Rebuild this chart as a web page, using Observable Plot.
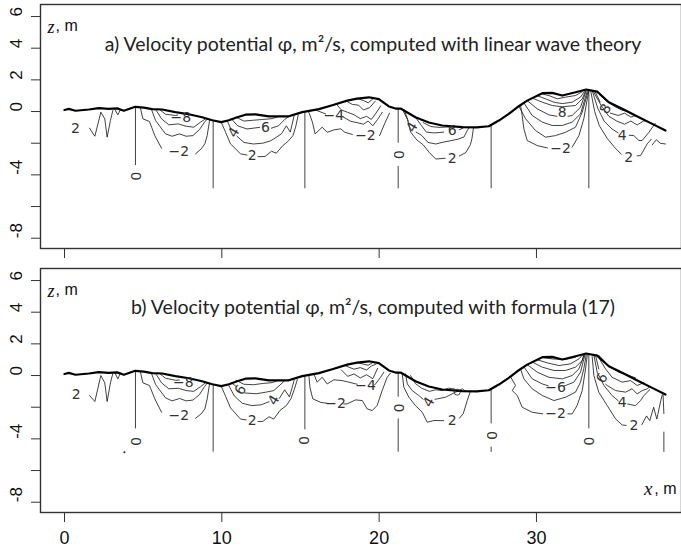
<!DOCTYPE html>
<html>
<head>
<meta charset="utf-8">
<script src="https://cdn.jsdelivr.net/npm/d3@7"></script>
<script src="https://cdn.jsdelivr.net/npm/@observablehq/plot@0.6"></script>
<style>
  body { margin: 0; background: #fff; }
  #chart svg { display: block; overflow: visible; }
</style>
</head>
<body>
<div id="chart"></div>
<script>
// ---------- data ----------
const titleA = "a) Velocity potential \u03c6, m\u00b2/s, computed with linear wave theory";
const titleB = "b) Velocity potential \u03c6, m\u00b2/s, computed with formula (17)";
const xTicks = [0, 10, 20, 30];
const yTicks = [6, 4, 2, 0, -2, -4, -6, -8];
const yTickLabels = [6, 4, 2, 0, -4, -8];

// free surface (same in both panels)
const surfX = [0, 0.27, 0.7, 1.55, 2.18, 2.8, 3.35, 3.77, 4.5, 5.04, 5.57, 6.2, 7.05, 7.9, 8.75, 9.39, 9.96, 10.45, 10.98, 11.5, 12.14, 12.99, 14.26, 15.11, 16.17, 17.02, 17.97, 18.6, 19.35, 19.98, 20.62, 21.04, 21.36, 22.31, 23.16, 24.01, 25.28, 26.2, 26.97, 27.61, 28.24, 28.78, 29.41, 30.37, 31.0, 31.64, 32.49, 33.16, 33.86, 34.6, 35.45, 36.51, 37.36, 38.2];
const surfZ = [0.1, 0.17, 0.05, 0.13, 0.21, 0.17, 0.2, 0.05, 0.3, 0.25, 0.15, 0.13, -0.04, -0.17, -0.36, -0.55, -0.67, -0.55, -0.36, -0.2, -0.18, -0.3, -0.3, -0.04, 0.15, 0.4, 0.69, 0.82, 0.9, 0.78, 0.32, 0.19, 0.19, -0.36, -0.69, -0.88, -0.99, -1.0, -0.93, -0.57, -0.15, 0.27, 0.69, 1.16, 1.18, 1.01, 1.22, 1.39, 1.26, 0.59, 0.17, -0.36, -0.78, -1.2];

// zero contour (vertical) segments: x, top z, bottom z
const zeroA = [[4.51, 0.3, -3.41], [9.45, -0.55, -4.88], [15.28, -0.02, -4.88], [21.21, 0.19, -2.0], [21.21, -3.47, -4.88], [27.12, -0.9, -4.88], [33.33, 1.35, -4.88]];
const zeroB = [[4.51, 0.3, -3.37], [9.45, -0.55, -4.84], [15.28, -0.02, -3.43], [21.21, 0.19, -1.37], [21.21, -2.74, -4.84], [27.12, -0.9, -3.05], [27.12, -4.53, -4.85], [33.33, 1.35, -3.37], [38.1, -3.58, -4.85]];
const zeroLabelsA = [[4.51, -4.08], [21.21, -2.72]];
const zeroLabelsB = [[4.51, -4.17], [15.17, -4.1], [21.21, -2.04], [27.12, -3.79], [33.33, -4.15]];

// contour polylines, panel a
const contoursA = [
  [[1.59,-1.05],[1.93,-1.56],[2.31,-0.04],[2.56,-0.46],[2.71,-1.62],[2.92,-0.57],[3.07,0.06]],
  [[3.2,0.13],[3.39,-0.21],[3.56,0.13]],
  [[4.83,0.21],[4.98,-0.46],[5.4,-0.63],[5.74,-1.52],[6.17,-2.32]],
  [[8.33,-2.67],[8.69,-2.36],[8.92,-2.04],[9.07,-1.52],[9.22,-0.57]],
  [[5.53,0.13],[5.79,-0.57],[6.42,-1.41],[6.84,-1.56],[7.31,-1.41],[7.73,-1.56],[8.16,-1.52],[8.58,-1.14],[8.9,-0.67],[9.09,-0.46]],
  [[5.79,0.13],[6.17,-0.46],[6.63,-0.84],[7.23,-0.78],[7.73,-0.93],[8.22,-0.99],[8.65,-0.67],[8.96,-0.46]],
  [[6.04,0.13],[6.42,-0.17],[7.06,-0.25],[7.2,-0.22]],
  [[9.96,-0.67],[10.24,-1.31],[10.55,-2.04],[11.19,-2.67],[11.6,-2.75]],
  [[12.3,-2.85],[12.74,-2.84],[13.16,-2.51],[13.46,-2.63],[13.88,-2.15],[14.22,-1.87],[14.52,-1.52],[14.69,-0.99],[14.86,-0.2]],
  [[10.35,-0.6],[10.55,-1.05]],
  [[10.95,-1.55],[11.4,-1.95],[12.0,-2.05],[12.6,-2.0],[13.1,-1.85],[13.5,-1.6],[13.8,-1.4],[14.1,-0.9],[14.35,-1.3],[14.6,-0.25]],
  [[10.6,-0.45],[11.0,-0.9],[11.6,-1.1],[12.4,-1.0]],
  [[13.15,-1.05],[13.6,-0.9],[14.0,-0.5],[14.3,-0.27]],
  [[10.9,-0.35],[11.4,-0.6],[12.0,-0.55],[12.6,-0.5],[13.2,-0.45],[13.7,-0.28]],
  [[15.53,-0.04],[15.76,-0.67],[15.93,-1.41],[16.38,-0.99],[16.7,-1.31],[17.12,-1.16],[17.55,-1.09],[17.82,-1.31],[18.3,-1.45]],
  [[20.03,-1.52],[20.36,-0.74],[20.66,-0.1]],
  [[16.0,0.08],[16.6,-0.15]],
  [[17.65,-0.3],[17.9,-0.45],[18.2,-0.62],[18.6,-0.7],[19.0,-0.8],[19.3,-0.6],[19.6,-0.9],[19.9,-0.5],[20.2,-0.05]],
  [[17.3,0.45],[17.6,0.1],[18.0,-0.05],[18.4,-0.2],[18.8,-0.45],[19.2,-0.3],[19.5,-0.5],[19.8,-0.1],[20.1,0.35]],
  [[17.9,0.66],[18.3,0.45],[18.7,0.4],[19.0,0.1],[19.4,0.25],[19.75,0.65]],
  [[18.6,0.82],[19.0,0.7],[19.3,0.55],[19.6,0.8]],
  [[21.5,0.1],[21.8,-0.5],[22.0,-1.3],[22.4,-1.8],[22.8,-2.1],[23.2,-2.6],[23.6,-3.0],[24.2,-2.95]],
  [[25.1,-2.8],[25.5,-2.6],[25.8,-2.1],[25.9,-1.7],[26.0,-1.0]],
  [[21.6,0.1],[21.85,-0.6]],
  [[22.35,-1.3],[22.7,-1.5],[23.1,-1.95],[23.6,-2.05],[24.0,-1.95],[24.5,-1.85],[25.0,-1.75],[25.4,-1.6],[25.6,-1.2],[25.75,-0.98]],
  [[22.3,-0.35],[22.7,-0.9],[23.0,-1.3],[23.5,-1.35],[24.1,-1.3]],
  [[25.1,-1.15],[25.4,-1.0]],
  [[22.8,-0.7],[23.3,-0.95],[23.8,-1.0],[24.3,-0.98],[24.8,-0.99]],
  [[28.99,0.41],[29.09,-0.25],[29.2,-1.09],[29.41,-1.83],[30.05,-2.15],[30.7,-2.3]],
  [[32.27,-2.25],[32.7,-1.52],[33.01,-0.46],[33.23,0.8],[33.33,1.3]],
  [[28.88,0.35],[29.31,-0.46],[29.94,-1.2],[30.58,-1.62],[31.21,-1.52],[31.85,-1.31],[32.48,-0.99],[32.91,-0.04],[33.29,1.3]],
  [[29.2,0.55],[29.73,-0.25],[30.37,-0.67],[31.0,-0.88],[31.64,-0.88],[32.27,-0.67],[32.8,-0.15],[33.23,1.3]],
  [[29.41,0.69],[30.05,0.17],[30.79,-0.21],[31.3,-0.3]],
  [[32.0,-0.3],[32.27,-0.25],[32.8,0.27],[33.16,1.3]],
  [[29.73,0.85],[30.37,0.59],[31.0,0.38],[31.64,0.3],[32.48,0.38],[32.91,0.8],[33.12,1.3]],
  [[30.05,1.0],[30.58,0.8],[31.11,0.59],[31.64,0.5],[32.27,0.59],[32.8,0.91],[33.08,1.32]],
  [[30.3,1.12],[30.79,1.01],[31.32,0.8],[31.85,0.91],[32.48,1.01],[32.91,1.25]],
  [[33.45,1.3],[33.7,0.0],[34.0,-0.9],[34.5,-1.7],[35.0,-2.3],[35.4,-2.7]],
  [[36.4,-2.8],[36.62,-2.78],[37.04,-2.04],[37.3,-1.75]],
  [[37.36,-2.1],[37.62,-1.78],[37.87,-2.0],[38.2,-2.05]],
  [[33.55,1.3],[33.9,0.2],[34.3,-0.6],[34.8,-1.1],[35.2,-1.35]],
  [[35.9,-1.5],[36.19,-1.52],[36.51,-1.83],[36.72,-1.83],[37.15,-1.31],[37.55,-0.75]],
  [[33.6,1.3],[34.1,0.4],[34.6,-0.3],[35.1,-0.6],[35.6,-0.8],[36.0,-0.6],[36.4,-0.85],[36.8,-0.6],[37.0,-0.6]],
  [[33.7,1.3],[34.05,0.6]],
  [[34.7,-0.1],[35.2,-0.25],[35.6,-0.1],[36.0,-0.35],[36.3,-0.25]],
  [[33.8,1.3],[34.4,0.7],[35.0,0.3],[35.4,0.1],[35.8,0.0],[36.0,-0.1]]
];

// contour polylines, panel b
const contoursB = [
  [[1.59,-1.26],[1.93,-1.64],[2.31,0.0],[2.56,-0.46],[2.71,-1.64],[2.92,-0.46],[3.07,0.11]],
  [[3.2,0.17],[3.39,-0.21],[3.56,0.17]],
  [[4.83,0.21],[4.98,-0.46],[5.4,-0.63],[5.74,-1.47],[6.17,-2.32]],
  [[8.33,-2.7],[8.69,-2.42],[8.92,-2.11],[9.07,-1.47],[9.22,-0.53]],
  [[5.53,0.13],[5.79,-0.57],[6.42,-1.41],[6.84,-1.6],[7.31,-1.45],[7.73,-1.6],[8.16,-1.55],[8.58,-1.2],[8.9,-0.7],[9.09,-0.46]],
  [[5.79,0.13],[6.17,-0.46],[6.63,-0.84],[7.23,-0.8],[7.73,-0.95],[8.22,-1.0],[8.65,-0.7],[8.96,-0.46]],
  [[6.04,0.13],[6.42,-0.17],[7.06,-0.3],[7.3,-0.28]],
  [[9.96,-0.67],[10.24,-1.31],[10.55,-2.04],[11.19,-2.75],[11.55,-2.8]],
  [[12.3,-2.9],[12.6,-2.9],[13.0,-2.6],[13.3,-2.75],[13.7,-2.2],[14.1,-1.9],[14.4,-1.45],[14.6,-0.9],[14.8,-0.25]],
  [[10.4,-0.55],[10.8,-1.3],[11.3,-1.75],[11.9,-1.9],[12.5,-1.85],[13.0,-1.65]],
  [[13.65,-1.45],[14.0,-0.9],[14.3,-1.35],[14.6,-0.3]],
  [[10.6,-0.45],[10.95,-0.72]],
  [[11.45,-1.1],[12.2,-1.15],[12.8,-1.05],[13.3,-0.95],[13.7,-0.6],[14.0,-0.32]],
  [[10.9,-0.3],[11.4,-0.55],[12.0,-0.58],[12.6,-0.5],[13.2,-0.45],[13.6,-0.3]],
  [[15.53,0.05],[15.6,-0.74],[15.78,-1.47],[16.3,-1.7],[16.7,-1.75]],
  [[17.75,-1.8],[17.97,-1.79],[18.5,-1.54],[18.93,-1.58],[19.24,-2.11],[19.56,-2.21],[19.87,-1.9],[20.19,-0.95],[20.51,-0.11],[20.72,0.15]],
  [[15.85,0.1],[16.06,-0.42],[16.38,-0.11],[16.7,-0.53],[17.12,-0.27],[17.65,-0.32],[18.08,-0.42],[18.6,-0.55]],
  [[19.7,-0.6],[19.77,-0.53],[20.09,-0.11],[20.3,0.21]],
  [[17.6,0.35],[18.0,-0.05],[18.4,0.1],[18.8,-0.15],[19.2,0.05],[19.6,-0.2],[19.9,0.45]],
  [[17.9,0.6],[18.4,0.4],[18.8,0.5],[19.2,0.35],[19.5,0.6],[19.8,0.72]],
  [[18.6,0.82],[19.0,0.72],[19.3,0.65],[19.6,0.82]],
  [[21.47,0.1],[21.57,-0.74],[21.89,-1.37],[22.31,-1.9],[22.74,-2.32],[23.06,-2.95],[23.48,-2.84],[24.1,-2.85]],
  [[25.1,-2.7],[25.35,-2.4],[25.6,-1.58],[25.81,-0.97]],
  [[21.68,0.1],[21.79,-0.53],[22.1,-0.95],[22.52,-1.26],[22.8,-1.5]],
  [[23.55,-1.5],[23.7,-1.47],[24.22,-1.37],[24.86,-1.05],[25.28,-0.84],[25.5,-0.99]],
  [[22.0,0.0],[22.3,-0.5],[22.7,-0.8],[23.2,-1.0],[23.6,-0.9],[24.0,-0.95],[24.4,-0.8],[24.8,-0.85]],
  [[28.35,-0.08],[28.67,-0.63],[28.46,-0.95],[28.78,-1.26],[29.09,-2.0],[29.73,-2.32],[30.4,-2.42]],
  [[32.0,-2.42],[32.27,-2.42],[32.58,-1.9],[32.91,-0.95],[33.12,0.42],[33.23,1.3]],
  [[28.99,0.41],[29.2,-0.21],[29.73,-0.84],[30.37,-1.26],[31.11,-1.58],[31.85,-1.37],[32.48,-1.05],[32.8,-0.42],[33.01,0.42],[33.16,1.3]],
  [[29.2,0.55],[29.73,-0.21],[30.37,-0.53],[30.75,-0.65]],
  [[31.75,-0.65],[31.85,-0.63],[32.38,-0.42],[32.8,0.21],[33.08,1.3]],
  [[29.41,0.69],[30.05,0.21],[30.79,-0.11],[31.64,-0.21],[32.27,0.0],[32.7,0.42],[33.04,1.3]],
  [[29.73,0.85],[30.37,0.53],[31.11,0.32],[31.85,0.32],[32.48,0.53],[32.91,0.95],[33.01,1.32]],
  [[30.05,1.0],[30.69,0.8],[31.43,0.63],[32.17,0.74],[32.7,1.05],[32.95,1.32]],
  [[30.37,1.14],[31.0,1.05],[31.85,1.01],[32.48,1.16]],
  [[33.54,1.2],[33.65,0.0],[33.96,-1.05],[34.5,-1.9],[35.03,-2.74],[35.45,-3.12],[35.7,-3.15]],
  [[36.7,-3.1],[37.0,-2.55],[37.2,-2.85],[37.45,-2.0],[37.65,-2.75],[37.9,-1.6],[38.0,-1.2]],
  [[38.05,-1.25],[38.1,-2.4]],
  [[33.65,1.3],[33.86,0.21],[34.29,-0.63],[34.81,-1.26],[35.2,-1.6]],
  [[35.8,-1.8],[36.3,-1.9],[36.62,-1.58],[36.83,-1.26],[37.2,-0.9]],
  [[33.75,1.3],[33.96,0.42]],
  [[34.4,-0.55],[34.5,-0.63],[35.03,-0.95],[35.66,-1.05],[36.08,-0.84],[36.4,-1.16],[36.72,-0.95],[37.04,-0.84],[37.2,-0.7]],
  [[33.86,1.3],[34.39,0.42],[34.81,-0.11],[35.45,-0.42],[35.98,-0.32],[36.4,-0.63],[36.83,-0.45]],
  [[33.96,1.28],[34.6,0.6],[35.24,0.21],[35.88,0.0],[36.3,-0.15]]
];

// contour labels: [x, z, text]
const labelsA = [[0.7,-1.05,"2"],[7.4,-0.36,"\u22128"],[7.27,-2.53,"\u22122"],[12.78,-1.0,"6"],[11.93,-2.78,"2"],[17.12,-0.25,"\u22124"],[19.13,-1.52,"\u22122"],[24.64,-1.2,"6"],[24.64,-2.99,"2"],[31.64,-0.04,"8"],[31.53,-2.36,"\u22122"],[35.45,-1.52,"4"],[35.87,-2.88,"2"]];
const tiltedA = [[10.76,-1.31,"4"],[22.1,-0.99,"4"],[34.39,0.17,"8"]];
const labelsB = [[0.74,-1.22,"2"],[7.55,-0.42,"\u22128"],[7.27,-2.53,"\u22122"],[11.93,-2.84,"2"],[17.23,-1.75,"\u22122"],[19.14,-0.63,"\u22124"],[24.64,-2.84,"2"],[31.21,-0.74,"\u22126"],[31.21,-2.42,"\u22122"],[35.45,-1.68,"4"],[36.19,-3.16,"2"]];
const tiltedB = [[11.19,-0.9,"6"],[13.31,-1.55,"4"],[23.16,-1.68,"4"],[34.18,-0.17,"6"]];
const ringsB = [[24.96,-1.05]];
const dotsB = [[3.81,-4.84]];

// ---------- drawing ----------
const surface = surfX.map((x, i) => ({x, z: surfZ[i]}));
const toRows = (lines) => lines.flatMap((pts, id) => pts.map(([x, z]) => ({id, x, z})));
const ink = "#111";
const lbl = {fontSize: 14, fontFamily: "DejaVu Sans", fill: "#333"};

function panel({title, titleDy, zero, zeroLabels, contours, labels, tilted, rings = [], dots = [], height, marginTop, marginBottom, showX, extra}) {
  return Plot.plot({
    width: 681, height, marginLeft: 40, marginRight: 0, marginTop, marginBottom,
    x: {domain: [-1.526, 39.22], axis: null},
    y: {domain: [-8.65, 6.76], axis: null},
    style: {fontFamily: "Liberation Sans", background: "#fff", color: ink},
    marks: [
      Plot.ruleX(zero, {x: d => d[0], y1: d => d[1], y2: d => d[2], stroke: ink, strokeWidth: 0.8}),
      Plot.line(toRows(contours), {x: "x", y: "z", z: "id", stroke: ink, strokeWidth: 0.8, curve: "linear"}),
      Plot.line(surface, {x: "x", y: "z", stroke: "#000", strokeWidth: 2.2}),
      Plot.text(labels, {x: d => d[0], y: d => d[1], text: d => d[2], ...lbl}),
      Plot.text(tilted, {x: d => d[0], y: d => d[1], text: d => d[2], rotate: -60, ...lbl}),
      Plot.text(zeroLabels, {x: d => d[0], y: d => d[1], text: () => "0", rotate: 90, ...lbl}),
      Plot.dot(rings, {x: d => d[0], y: d => d[1], r: 3, stroke: "#222", strokeWidth: 0.8}),
      Plot.dot(dots, {x: d => d[0], y: d => d[1], r: 1, fill: "#222", stroke: null}),
      Plot.frame({stroke: "#333", strokeWidth: 1.4}),
      Plot.axisY({ticks: yTicks, tickSize: 9, tickFormat: () => "", label: null, stroke: "#333"}),
      Plot.text(yTickLabels, {y: d => d, text: d => String(d), frameAnchor: "left", dx: -24, rotate: -90, fontSize: 17, fill: ink}),
      Plot.axisX({ticks: xTicks, tickSize: 10, tickPadding: 9, fontSize: 18, label: null, stroke: "#333", tickFormat: showX ? (d => String(d)) : (() => "")}),
      Plot.text([title], {frameAnchor: "top", dx: 12, dy: titleDy, fontSize: 19.5, fontFamily: "Lato", fill: "#222"}),
      Plot.text(["z"], {frameAnchor: "top-left", dx: 7, dy: 16, fontSize: 18, fontFamily: "Liberation Serif", fontStyle: "italic", fill: ink}),
      Plot.text([", m"], {frameAnchor: "top-left", dx: 15, dy: 15, fontSize: 16, fill: ink}),
      ...(extra || [])
    ]
  });
}

const chartA = panel({title: titleA, titleDy: 33, zero: zeroA, zeroLabels: zeroLabelsA, contours: contoursA, labels: labelsA, tilted: tiltedA,
  height: 262, marginTop: 4, marginBottom: 14, showX: false});
const chartB = panel({title: titleB, titleDy: 32, zero: zeroB, zeroLabels: zeroLabelsB, contours: contoursB, labels: labelsB, tilted: tiltedB, rings: ringsB, dots: dotsB,
  height: 290, marginTop: 6, marginBottom: 40, showX: true,
  extra: [
    Plot.text(["x"], {frameAnchor: "bottom-right", dx: -29, dy: -18, fontSize: 19, fontFamily: "Liberation Serif", fontStyle: "italic", fill: ink}),
    Plot.text([", m"], {frameAnchor: "bottom-right", dx: -5, dy: -19, fontSize: 16, fill: ink})
  ]});
document.getElementById("chart").append(chartA, chartB);
</script>
</body>
</html>
